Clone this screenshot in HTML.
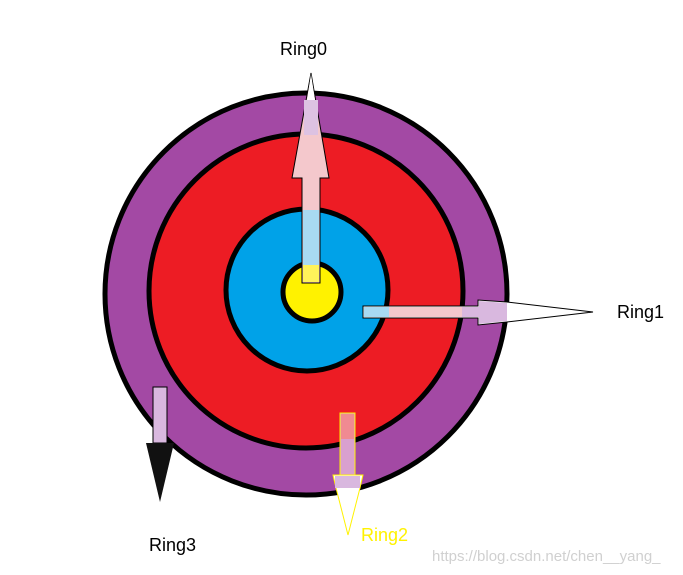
<!DOCTYPE html>
<html><head><style>
html,body{margin:0;padding:0;background:#fff;width:683px;height:575px;overflow:hidden}
svg{display:block}
text{font-family:"Liberation Sans",sans-serif}
</style></head><body>
<svg width="683" height="575" viewBox="0 0 683 575">
<circle cx="306" cy="294" r="201" fill="#a349a4" stroke="#000" stroke-width="5"/>
<circle cx="306" cy="291" r="157" fill="#ed1c24" stroke="#000" stroke-width="5"/>
<circle cx="307" cy="290" r="81" fill="#00a2e8" stroke="#000" stroke-width="5"/>
<circle cx="312" cy="292" r="29" fill="#fff200" stroke="#000" stroke-width="5"/>
<!-- Ring0 arrow -->
<polygon points="302,283 320,283 320,178 329,178 311,73 292,178 302,178" fill="#f4c8cc" stroke="#000" stroke-width="1"/>
<polygon points="311,74 315,100 307,100" fill="#fff"/>
<rect x="304" y="100" width="14" height="35" fill="#ddc2e2"/>
<rect x="303" y="210" width="16" height="55" fill="#a8daf2"/>
<rect x="303" y="265" width="16" height="17" fill="#fff35a"/>
<!-- Ring1 arrow -->
<polygon points="363,306 478,306 478,300 507,302 593,312 507,322 478,325 478,318 363,318" fill="#fff" stroke="#000" stroke-width="1"/>
<rect x="364" y="307" width="114" height="10" fill="#f4c8cc"/>
<rect x="364" y="307" width="25" height="10" fill="#a8daf2"/>
<polygon points="479,301 507,303 507,321 479,324" fill="#d9b8df"/>
<rect x="462" y="307" width="17" height="10" fill="#d9b8df"/>
<!-- Ring3 arrow -->
<rect x="153" y="387" width="14" height="56" fill="#d9b8df" stroke="#000" stroke-width="1"/>
<polygon points="146,443 174,443 160,502" fill="#111"/>
<!-- Ring2 arrow -->
<rect x="340" y="413" width="15" height="62" fill="#d9a0cf" stroke="#fff200" stroke-width="1"/>
<rect x="341" y="414" width="13" height="25" fill="#f08a92"/>
<polygon points="333,475 363,475 360,488 348,535 336,488" fill="#fff" stroke="#fff200" stroke-width="1"/>
<rect x="335" y="476" width="25" height="12" fill="#d9b8df"/>
<text x="280" y="55" font-size="18" fill="#000">Ring0</text>
<text x="617" y="318" font-size="18" fill="#000">Ring1</text>
<text x="361" y="541" font-size="18" fill="#fff200">Ring2</text>
<text x="149" y="551" font-size="18" fill="#000">Ring3</text>
<text x="432" y="561" font-size="15" fill="#d0d0d0">https://blog.csdn.net/chen__yang_</text>
</svg>
</body></html>
